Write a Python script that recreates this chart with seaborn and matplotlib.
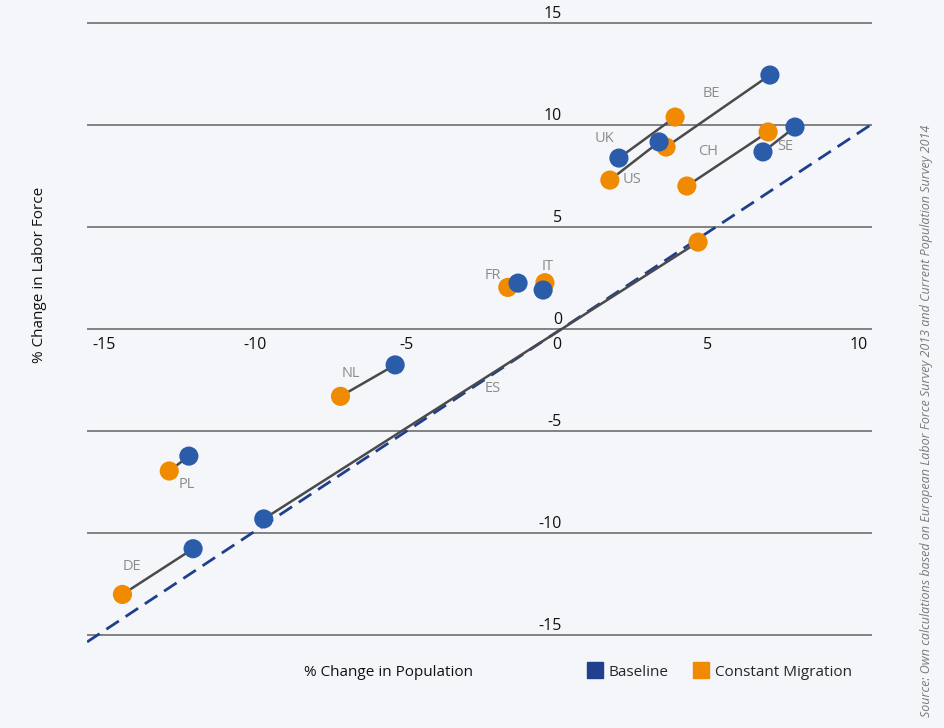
import pandas as pd
import matplotlib
matplotlib.use('Agg')
import matplotlib.pyplot as plt
from matplotlib.lines import Line2D
import seaborn as sns

# long format: one row per plotted point, lines join the two rows of a country
country = ['BE', 'BE', 'UK', 'UK', 'US', 'US', 'CH', 'CH', 'SE', 'SE', 'FR', 'FR',
           'IT', 'IT', 'NL', 'NL', 'ES', 'ES', 'PL', 'PL', 'DE', 'DE']
scenario = ['Baseline', 'Constant Migration', 'Baseline', 'Constant Migration',
            'Baseline', 'Constant Migration', 'Constant Migration', 'Constant Migration',
            'Baseline', 'Baseline', 'Baseline', 'Constant Migration',
            'Baseline', 'Constant Migration', 'Baseline', 'Constant Migration',
            'Baseline', 'Constant Migration', 'Baseline', 'Constant Migration',
            'Baseline', 'Constant Migration']
pop_change = [7.05, 3.61, 2.05, 3.91, 3.38, 1.75, 6.99, 4.30, 7.88, 6.82, -1.29, -1.63,
              -0.46, -0.40, -5.36, -7.17, -9.71, 4.67, -12.19, -12.84, -12.05, -14.39]
labor_change = [12.45, 8.92, 8.38, 10.39, 9.17, 7.30, 9.66, 7.01, 9.90, 8.68, 2.25, 2.04,
                1.91, 2.27, -1.76, -3.30, -9.31, 4.26, -6.23, -6.96, -10.77, -13.01]

# reference line (equal change)
ref_x = [-15.56, 10.43]
ref_y = [-15.34, 10.05]

x_ticks = [-15, -10, -5, 0, 5, 10]
y_ticks = [-15, -10, -5, 0, 5, 10, 15]

# label offsets in pixels from the first point of each country
label_offsets = {'BE': (-59, -18), 'UK': (-14, 20), 'US': (-27, -38), 'CH': (-60, -20),
                 'SE': (-10, -19), 'FR': (-25, 8), 'IT': (5, 24), 'NL': (-44, -9),
                 'ES': (229, 130), 'PL': (-2, -28), 'DE': (-61, -18)}

df = pd.DataFrame({'country': country, 'scenario': scenario,
                   'x': pop_change, 'y': labor_change})

bg = '#f4f6fa'
palette = {'Baseline': '#2a5caa', 'Constant Migration': '#f08a00'}

sns.set_style('white')
plt.rcParams['font.family'] = ['Open Sans', 'DejaVu Sans']

fig = plt.figure(figsize=(9.45, 7.28), dpi=100, facecolor=bg)
ax = fig.add_axes([87 / 945, 0.114, 785 / 945, 0.8585])
ax.set_facecolor(bg)

ax.set_xlim(-15.563, 10.43)
ax.set_ylim(-15.49, 15.147)

# horizontal grid
for v in y_ticks:
    ax.axhline(v, color='#6e6e6e', lw=1.2, zorder=1)

sns.lineplot(x=ref_x, y=ref_y, ax=ax, color='#1f3f8c', lw=2.0,
             dashes=False, zorder=2).lines[-1].set_dashes((5.4, 2.9))

sns.lineplot(data=df, x='x', y='y', units='country', estimator=None, sort=False,
             color='#4a4a4a', lw=1.8, ax=ax, zorder=3, legend=False)

order = df.assign(o=(df['scenario'] == 'Baseline').astype(int)).sort_values('o', kind='stable')
sns.scatterplot(data=order, x='x', y='y', hue='scenario', palette=palette, s=190,
                edgecolor='none', linewidth=0, ax=ax, zorder=4, legend=False)

# country labels
for c, (dx, dy) in label_offsets.items():
    row = df[df['country'] == c].iloc[0]
    ax.annotate(c, (row['x'], row['y']), xytext=(dx, dy), textcoords='offset pixels',
                ha='center', va='center', fontsize=10.5, color='#8c8c8c', zorder=5)

# axis tick labels placed along the zero lines
for v in x_ticks:
    ax.annotate(str(v), (v, 0), xytext=(0, -8), textcoords='offset pixels',
                ha='center', va='top', fontsize=11.5, color='#111111')
for v in y_ticks:
    ax.annotate(str(v), (0, v), xytext=(5, 5), textcoords='offset pixels',
                ha='right', va='baseline', fontsize=11.5, color='#111111')

ax.set_xticks([])
ax.set_yticks([])
ax.set_xlabel('')
ax.set_ylabel('')
for s in ax.spines.values():
    s.set_visible(False)

fig.text(40 / 945, 1 - 275 / 728, '% Change in Labor Force', rotation=90,
         ha='center', va='center', fontsize=11, color='#111111')
fig.text(388 / 945, 1 - 672 / 728, '% Change in Population',
         ha='center', va='center', fontsize=11, color='#111111')
fig.text(927 / 945, 1 - 421 / 728,
         'Source: Own calculations based on European Labor Force Survey 2013 '
         'and Current Population Survey 2014',
         rotation=90, ha='center', va='center', fontsize=9, style='italic',
         color='#7a7a7a')

handles = [Line2D([], [], marker='s', ls='none', ms=11, color='#213f8c'),
           Line2D([], [], marker='s', ls='none', ms=11, color='#f08a00')]
fig.legend(handles, ['Baseline', 'Constant Migration'], loc='center left',
           bbox_to_anchor=(589 / 945, 1 - 672 / 728), ncol=2, frameon=False,
           handlelength=0.8, handletextpad=0.5, columnspacing=1.7, fontsize=11,
           borderpad=0, borderaxespad=0)

fig.savefig('out.png', dpi=100, facecolor=bg)
